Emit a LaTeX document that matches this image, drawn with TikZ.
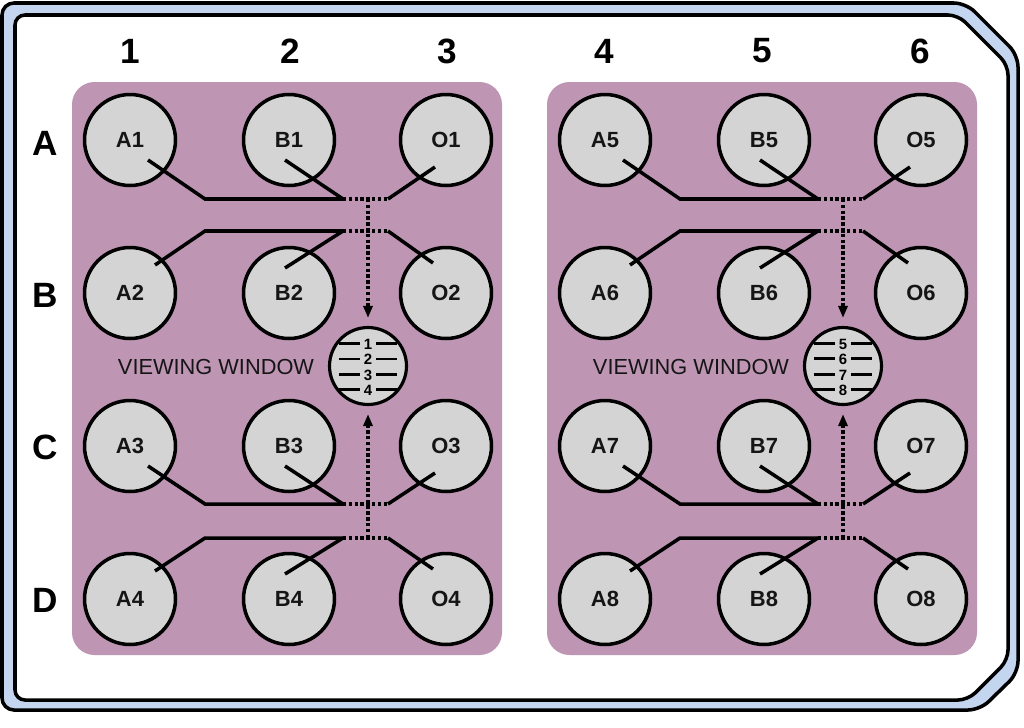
\documentclass[tikz,border=0pt]{standalone}
\usepackage{fontspec}
\setmainfont{Liberation Sans}
\usetikzlibrary{arrows.meta}

\definecolor{platepurple}{HTML}{BE96B4}
\definecolor{frameblue}{HTML}{C3D5EF}
\definecolor{wellgray}{HTML}{D4D4D4}
\definecolor{ink}{HTML}{151515}

\tikzset{
  well/.style={circle, draw, line width=2pt, fill=wellgray, minimum size=1.82cm, inner sep=0pt,
    text=ink, font=\fontsize{12.5}{12.5}\selectfont\bfseries},
  window/.style={circle, draw, line width=1.8pt, fill=wellgray, minimum size=1.54cm, inner sep=0pt},
  head/.style={font=\fontsize{20}{20}\selectfont\bfseries},
  wire/.style={line width=2pt},
  dotline/.style={line width=2pt, dash pattern=on 1.9pt off 1.4pt},
  viewtxt/.style={text=ink, font=\fontsize{12.4}{12.4}\selectfont},
  winnum/.style={font=\fontsize{8.5}{8.5}\selectfont\bfseries, inner sep=0pt}
}
\newcommand{\winrule}{\rule[2.4pt]{0.42cm}{1.4pt}}

\begin{document}
\begin{tikzpicture}[x=0.02cm, y=-0.02cm]
  \useasboundingbox (0,0) rectangle (1024,727);
  % tray outline
  \filldraw[fill=frameblue, line width=2pt, rounded corners=0.24cm]
    (500,3) -- (966,3) -- (1018,55) -- (1018,673) -- (980,710) -- (2,710) -- (2,3) -- cycle;
  \filldraw[fill=white, line width=2pt, rounded corners=0.2cm]
    (500,15) -- (958,15) -- (1008,65) -- (1008,660) -- (968,700) -- (15,700) -- (15,15) -- cycle;

  % column and row labels
  \node[head] (col1) at (130,51) {1};
  \node[head] (col2) at (290,51) {2};
  \node[head] (col3) at (447,51) {3};
  \node[head] (col4) at (604,51) {4};
  \node[head] (col5) at (762,51) {5};
  \node[head] (col6) at (920,51) {6};
  \node[head] (rowA) at (45,143) {A};
  \node[head] (rowB) at (45,295) {B};
  \node[head] (rowC) at (45,447) {C};
  \node[head] (rowD) at (45,600) {D};

  \foreach \i/\dx/\ra/\rb/\rc/\rd in {1/0/1/2/3/4, 2/475/5/6/7/8} {
  \begin{scope}[shift={(\dx,0)}]
    \fill[platepurple, rounded corners=0.45cm] (72,82) rectangle (502,655);

    \node[well] (A\ra) at (130,140) {A\ra};
    \node[well] (B\ra) at (289,140) {B\ra};
    \node[well] (O\ra) at (446,140) {O\ra};
    \node[well] (A\rb) at (130,293) {A\rb};
    \node[well] (B\rb) at (289,293) {B\rb};
    \node[well] (O\rb) at (446,293) {O\rb};
    \node[well] (A\rc) at (130,446) {A\rc};
    \node[well] (B\rc) at (289,446) {B\rc};
    \node[well] (O\rc) at (446,446) {O\rc};
    \node[well] (A\rd) at (130,599) {A\rd};
    \node[well] (B\rd) at (289,599) {B\rd};
    \node[well] (O\rd) at (446,599) {O\rd};

    \node[window] (win\i) at (368,366) {};
    \foreach \n/\y in {\ra/344, \rb/359, \rc/375, \rd/390}
      \node[winnum] (num\n) at (368,\y) {\winrule\hspace{0.08cm}\n\hspace{0.08cm}\winrule};
    \node[viewtxt] (view\i) at (216,367) {VIEWING WINDOW};

    % channels, upper pair
    \coordinate (ta\i) at (343,199); \coordinate (tb\i) at (388,199);
    \coordinate (tc\i) at (343,231); \coordinate (td\i) at (388,231);
    \coordinate (tm\i) at (368,199);
    \draw[wire] ([shift={(18,20)}]A\ra.center) -- (205,199) -- (ta\i);
    \draw[wire] ([shift={(-4,20)}]B\ra.center) -- (ta\i);
    \draw[wire] ([shift={(-11,27)}]O\ra.center) -- (tb\i);
    \draw[wire] ([shift={(25,-28)}]A\rb.center) -- (205,231) -- (tc\i);
    \draw[wire] ([shift={(-4,-25)}]B\rb.center) -- (tc\i);
    \draw[wire] ([shift={(-13,-30)}]O\rb.center) -- (td\i);
    \draw[dotline] (ta\i) -- (tb\i);
    \draw[dotline] (tc\i) -- (td\i);
    \draw[dotline, -{Triangle[length=0.24cm, width=0.18cm]}, shorten >=0.16cm] (tm\i) -- (win\i);

    % channels, lower pair
    \coordinate (ba\i) at (343,504); \coordinate (bb\i) at (388,504);
    \coordinate (bc\i) at (343,538); \coordinate (bd\i) at (388,538);
    \coordinate (bm\i) at (368,538);
    \draw[wire] ([shift={(18,20)}]A\rc.center) -- (205,504) -- (ba\i);
    \draw[wire] ([shift={(-4,20)}]B\rc.center) -- (ba\i);
    \draw[wire] ([shift={(-11,27)}]O\rc.center) -- (bb\i);
    \draw[wire] ([shift={(25,-28)}]A\rd.center) -- (205,538) -- (bc\i);
    \draw[wire] ([shift={(-4,-25)}]B\rd.center) -- (bc\i);
    \draw[wire] ([shift={(-13,-30)}]O\rd.center) -- (bd\i);
    \draw[dotline] (ba\i) -- (bb\i);
    \draw[dotline] (bc\i) -- (bd\i);
    \draw[dotline, -{Triangle[length=0.24cm, width=0.18cm]}, shorten >=0.16cm] (bm\i) -- (win\i);
  \end{scope}
  }
\end{tikzpicture}
\end{document}
